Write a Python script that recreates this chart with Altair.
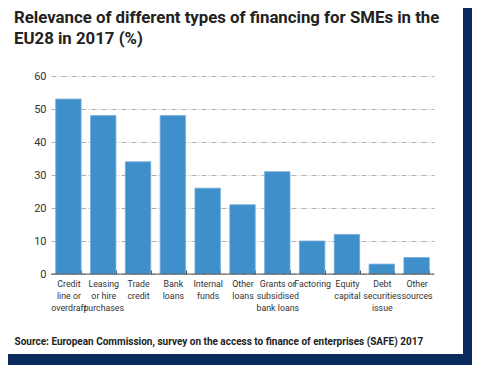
import altair as alt
import pandas as pd

categories = [
    "Credit\nline or\noverdraft",
    "Leasing\nor hire\npurchases",
    "Trade\ncredit",
    "Bank\nloans",
    "Internal\nfunds",
    "Other\nloans",
    "Grants or\nsubsidised\nbank loans",
    "Factoring",
    "Equity\ncapital",
    "Debt\nsecurities\nissue",
    "Other\nsources",
]
values = [53, 48, 34, 48, 26, 21, 31, 10, 12, 3, 5]
y_ticks = [0, 10, 20, 30, 40, 50, 60]
baseline_value = [0]
title_lines = [
    "Relevance of different types of financing for SMEs in the",
    "EU28 in 2017 (%)",
]
source_text = "Source: European Commission, survey on the access to finance of  enterprises (SAFE) 2017"

W, H = 383, 198
PAD = {"left": 43, "top": 68, "right": 38, "bottom": 91}
NAVY = "#0b2b5e"
FONT = "Roboto"

df = pd.DataFrame({"type": categories, "value": values})
base_df = pd.DataFrame({"value": baseline_value})

x_enc = alt.X(
    "type:N",
    sort=None,
    scale=alt.Scale(paddingInner=0.27, paddingOuter=0.135),
    axis=alt.Axis(
        title=source_text,
        titleFont=FONT,
        titleFontSize=10,
        titleFontWeight="bold",
        titleColor="#222222",
        titleX=-37,
        titleY=74,
        titleAlign="left",
        titleBaseline="alphabetic",
        labelAngle=0,
        labelExpr="split(datum.label, '\\n')",
        labelFont=FONT,
        labelFontSize=8.8,
        labelLineHeight=12,
        labelColor="#333333",
        labelPadding=5,
        domain=False,
        ticks=True,
        tickSize=4,
        tickWidth=1,
        tickColor="#444444",
        tickBand="extent",
        offset=-4,
    ),
)
y_scale = alt.Scale(domain=[0, 60])
y_axis = alt.Axis(
    values=y_ticks,
    title=None,
    domain=False,
    ticks=False,
    labelFont=FONT,
    labelFontSize=11,
    labelColor="#333333",
    labelPadding=5,
    labelOverlap=False,
    grid=True,
    gridColor="#b0b0b0",
    gridDash=[5, 2, 1, 2],
)

bars = alt.Chart(df).mark_bar(color="#3f8fca", stroke="#74acd9", strokeWidth=0.8).encode(
    x=x_enc, y=alt.Y("value:Q", scale=y_scale, axis=y_axis)
)

baseline = alt.Chart(base_df).mark_rule(color="#555555", strokeWidth=1).encode(
    y=alt.Y("value:Q", scale=y_scale, axis=y_axis), x=alt.value(0), x2=alt.value(W)
)

frame_data = alt.Data(values=[{"k": 0}])
right_strip = alt.Chart(frame_data).mark_rect(color=NAVY).encode(
    x=alt.value(412), x2=alt.value(421), y=alt.value(-68), y2=alt.value(289)
)
bottom_strip = alt.Chart(frame_data).mark_rect(color=NAVY).encode(
    x=alt.value(-43), x2=alt.value(421), y=alt.value(278), y2=alt.value(289)
)

chart = (
    alt.layer(bars, baseline, right_strip, bottom_strip)
    .properties(
        width=W,
        height=H,
        padding=PAD,
        autosize=alt.AutoSizeParams(type="none"),
        background="white",
        title=alt.Title(
            text=title_lines,
            anchor="start",
            frame="group",
            dx=-37,
            dy=40,
            offset=0,
            font=FONT,
            fontSize=16.8,
            fontWeight="bold",
            color="#222222",
            lineHeight=21,
        ),
    )
    .configure_view(stroke=None)
)

chart.save("out.html", embed_options={"renderer": "svg", "actions": False})
